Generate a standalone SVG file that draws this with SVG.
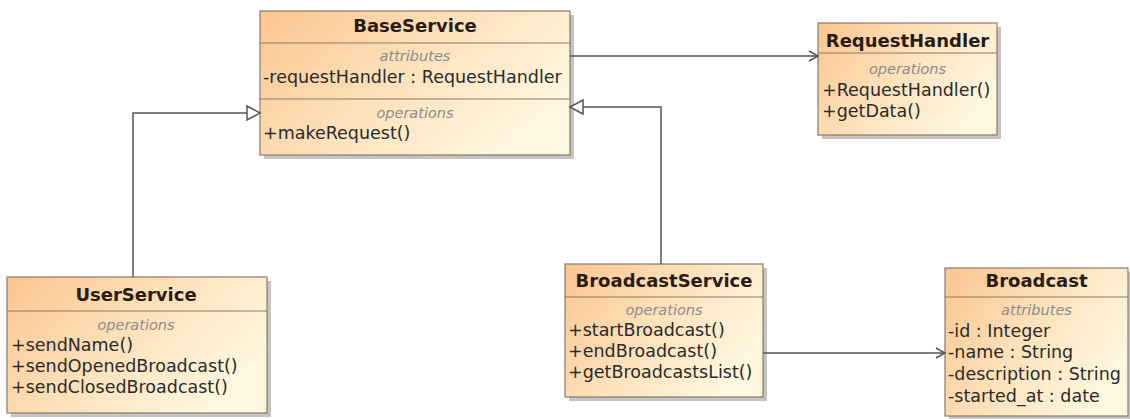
<svg xmlns="http://www.w3.org/2000/svg" width="1130" height="419" viewBox="0 0 1130 419">
<defs>
<linearGradient id="fill" x1="0" y1="0" x2="1" y2="0.5">
<stop offset="0" stop-color="#fbc590"/>
<stop offset="0.55" stop-color="#fde2bc"/>
<stop offset="1" stop-color="#fff6de"/>
</linearGradient>
<marker id="open" markerWidth="12" markerHeight="12" refX="10" refY="6" orient="auto" markerUnits="userSpaceOnUse">
<path d="M1,1 L10,6 L1,11" fill="none" stroke="#555" stroke-width="1.5"/>
</marker>
<marker id="tri" markerWidth="16" markerHeight="18" refX="14" refY="8" orient="auto" markerUnits="userSpaceOnUse">
<path d="M1,1 L14,8 L1,15 Z" fill="#fff" stroke="#555" stroke-width="1.5"/>
</marker>
</defs>
<style>
.shadow{fill:#c4c4c4}
.box{fill:url(#fill);stroke:#8a7a66;stroke-width:1.2}
.div{stroke:#8a7a66;stroke-width:1.2}
.title{font-family:"DejaVu Sans",sans-serif;font-weight:bold;font-size:18px;fill:#2a1c12;text-anchor:middle}
.sec{font-family:"DejaVu Sans",sans-serif;font-style:italic;font-size:14.5px;fill:#8c8c8c;text-anchor:middle}
.mem{font-family:"DejaVu Sans",sans-serif;font-size:17.5px;fill:#2a2a2a}
.edge{fill:none;stroke:#555;stroke-width:1.5}
</style>
<g id="BaseService">
<rect class="shadow" x="264" y="15" width="310" height="144"/>
<rect class="box" x="260" y="11" width="310" height="144"/>
<line class="div" x1="260" y1="43" x2="570" y2="43"/>
<line class="div" x1="260" y1="99" x2="570" y2="99"/>
<text class="title" x="415" y="32">BaseService</text>
<text class="sec" x="415" y="61">attributes</text>
<text class="mem" x="263" y="83">-requestHandler : RequestHandler</text>
<text class="sec" x="415" y="118">operations</text>
<text class="mem" x="263" y="139">+makeRequest()</text>
</g>
<g id="RequestHandler">
<rect class="shadow" x="822" y="27" width="179" height="112"/>
<rect class="box" x="818" y="23" width="179" height="112"/>
<line class="div" x1="818" y1="53" x2="997" y2="53"/>
<text class="title" x="907.5" y="47">RequestHandler</text>
<text class="sec" x="907.5" y="74">operations</text>
<text class="mem" x="822" y="96">+RequestHandler()</text>
<text class="mem" x="822" y="117">+getData()</text>
</g>
<g id="UserService">
<rect class="shadow" x="11" y="281" width="260" height="136"/>
<rect class="box" x="7" y="277" width="260" height="136"/>
<line class="div" x1="7" y1="311" x2="267" y2="311"/>
<text class="title" x="136" y="301">UserService</text>
<text class="sec" x="136" y="330">operations</text>
<text class="mem" x="11" y="351">+sendName()</text>
<text class="mem" x="11" y="372">+sendOpenedBroadcast()</text>
<text class="mem" x="11" y="393">+sendClosedBroadcast()</text>
</g>
<g id="BroadcastService">
<rect class="shadow" x="569" y="268" width="198" height="133"/>
<rect class="box" x="565" y="264" width="198" height="133"/>
<line class="div" x1="565" y1="297" x2="763" y2="297"/>
<text class="title" x="664" y="287">BroadcastService</text>
<text class="sec" x="664" y="315">operations</text>
<text class="mem" x="568" y="336">+startBroadcast()</text>
<text class="mem" x="568" y="357">+endBroadcast()</text>
<text class="mem" x="568" y="378">+getBroadcastsList()</text>
</g>
<g id="Broadcast">
<rect class="shadow" x="949" y="272" width="183" height="148"/>
<rect class="box" x="945" y="268" width="183" height="148"/>
<line class="div" x1="945" y1="297" x2="1128" y2="297"/>
<text class="title" x="1036.5" y="287">Broadcast</text>
<text class="sec" x="1036.5" y="315">attributes</text>
<text class="mem" x="948" y="337">-id : Integer</text>
<text class="mem" x="948" y="358">-name : String</text>
<text class="mem" x="948" y="380">-description : String</text>
<text class="mem" x="948" y="402">-started_at : date</text>
</g>
<g id="connectors">
<path class="edge" d="M570,56 L818,56" marker-end="url(#open)"/>
<path class="edge" d="M661,264 L661,107 L570,107" marker-end="url(#tri)"/>
<path class="edge" d="M133,277 L133,113 L260,113" marker-end="url(#tri)"/>
<path class="edge" d="M763,353 L945,353" marker-end="url(#open)"/>
</g>
</svg>
